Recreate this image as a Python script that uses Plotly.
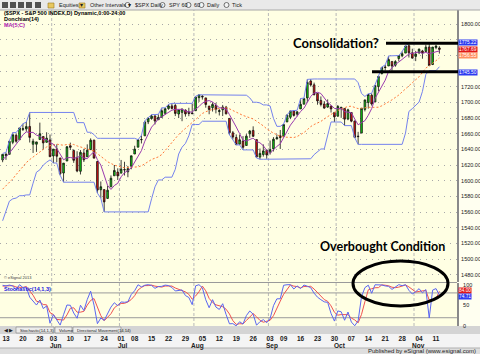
import plotly.graph_objects as go

# ---------------- data ----------------
dates = [
"2013-05-10","2013-05-13","2013-05-14","2013-05-15","2013-05-16","2013-05-17",
"2013-05-20","2013-05-21","2013-05-22","2013-05-23","2013-05-24",
"2013-05-28","2013-05-29","2013-05-30","2013-05-31",
"2013-06-03","2013-06-04","2013-06-05","2013-06-06","2013-06-07",
"2013-06-10","2013-06-11","2013-06-12","2013-06-13","2013-06-14",
"2013-06-17","2013-06-18","2013-06-19","2013-06-20","2013-06-21",
"2013-06-24","2013-06-25","2013-06-26","2013-06-27","2013-06-28",
"2013-07-01","2013-07-02","2013-07-03","2013-07-05",
"2013-07-08","2013-07-09","2013-07-10","2013-07-11","2013-07-12",
"2013-07-15","2013-07-16","2013-07-17","2013-07-18","2013-07-19",
"2013-07-22","2013-07-23","2013-07-24","2013-07-25","2013-07-26",
"2013-07-29","2013-07-30","2013-07-31",
"2013-08-01","2013-08-02",
"2013-08-05","2013-08-06","2013-08-07","2013-08-08","2013-08-09",
"2013-08-12","2013-08-13","2013-08-14","2013-08-15","2013-08-16",
"2013-08-19","2013-08-20","2013-08-21","2013-08-22","2013-08-23",
"2013-08-26","2013-08-27","2013-08-28","2013-08-29","2013-08-30",
"2013-09-03","2013-09-04","2013-09-05","2013-09-06",
"2013-09-09","2013-09-10","2013-09-11","2013-09-12","2013-09-13",
"2013-09-16","2013-09-17","2013-09-18","2013-09-19","2013-09-20",
"2013-09-23","2013-09-24","2013-09-25","2013-09-26","2013-09-27",
"2013-09-30",
"2013-10-01","2013-10-02","2013-10-03","2013-10-04",
"2013-10-07","2013-10-08","2013-10-09","2013-10-10","2013-10-11",
"2013-10-14","2013-10-15","2013-10-16","2013-10-17","2013-10-18",
"2013-10-21","2013-10-22","2013-10-23","2013-10-24","2013-10-25",
"2013-10-28","2013-10-29","2013-10-30","2013-10-31",
"2013-11-01","2013-11-04","2013-11-05","2013-11-06","2013-11-07","2013-11-08",
"2013-11-11","2013-11-12"]

opens = [1626.69,1632.10,1633.75,1649.13,1658.07,1652.45,1665.71,1666.20,1669.39,1646.67,1646.67,1652.63,1656.57,1649.14,1652.13,
1631.71,1640.73,1629.05,1609.94,1625.27,1644.67,1638.64,1629.94,1612.15,1635.52,1630.64,1639.77,1651.83,1624.62,1588.62,1588.77,1577.52,1592.27,1606.44,1611.12,
1609.78,1614.29,1611.48,1618.65,1634.20,1642.89,1652.50,1657.41,1675.26,1679.59,1682.70,1677.91,1681.05,1686.15,1692.09,1695.53,1696.06,1685.21,1687.31,1690.32,1687.92,1686.61,
1689.42,1706.10,1708.01,1705.79,1695.30,1693.35,1696.10,1688.37,1690.65,1693.88,1679.61,1661.22,1655.25,1646.81,1650.66,1645.03,1659.92,1664.29,1652.54,1630.25,1633.50,1638.89,
1635.95,1640.72,1653.28,1657.44,1656.85,1675.11,1681.04,1689.21,1685.04,1691.70,1697.73,1705.74,1727.34,1722.44,1711.44,1702.60,1698.02,1694.05,1695.52,1687.26,
1682.41,1691.90,1692.35,1678.79,1687.15,1676.22,1656.99,1660.88,1691.09,1699.86,1709.17,1700.49,1720.17,1736.72,1745.20,1746.48,1752.27,1747.48,1756.01,1759.42,1762.93,1772.27,1763.24,
1758.70,1763.40,1765.67,1765.00,1770.74,1748.37,1769.96,1769.51]

highs = [1633.70,1636.00,1651.10,1661.49,1660.51,1667.47,1672.84,1674.93,1687.18,1653.64,1649.78,1674.21,1656.57,1661.91,1658.99,
1640.42,1646.53,1629.31,1622.56,1644.40,1648.69,1640.13,1637.71,1639.25,1640.80,1646.50,1654.19,1652.45,1624.62,1599.19,1588.77,1593.79,1606.83,1620.07,1615.94,
1626.61,1624.26,1618.97,1632.07,1644.68,1652.45,1657.92,1676.63,1680.19,1684.51,1683.73,1684.75,1693.12,1692.09,1697.61,1698.78,1698.38,1690.94,1691.85,1690.92,1693.19,1698.43,
1707.85,1709.67,1709.24,1705.79,1695.30,1700.18,1699.42,1691.49,1696.81,1695.52,1679.61,1663.60,1659.18,1658.92,1656.99,1659.55,1664.85,1669.51,1652.54,1641.18,1646.41,1640.08,
1651.35,1655.72,1659.17,1664.83,1672.40,1684.09,1689.13,1689.97,1688.73,1704.95,1705.52,1729.44,1729.86,1725.23,1711.44,1707.63,1701.71,1703.85,1695.52,1687.26,
1696.55,1693.87,1692.35,1691.94,1687.15,1676.79,1662.47,1692.56,1703.44,1711.03,1711.57,1721.76,1733.45,1745.31,1747.79,1759.33,1752.27,1753.94,1759.82,1764.99,1772.09,1775.22,1768.53,
1765.67,1768.78,1767.03,1773.74,1774.54,1770.78,1773.44,1771.78]

lows = [1623.71,1626.74,1633.75,1646.68,1648.60,1652.45,1663.52,1662.67,1648.86,1635.53,1636.88,1652.63,1640.05,1648.61,1630.74,
1622.72,1623.62,1607.09,1598.23,1625.27,1639.26,1622.92,1610.92,1608.07,1623.96,1630.34,1639.77,1628.91,1584.32,1577.70,1560.33,1577.09,1592.27,1606.44,1601.06,
1609.78,1606.77,1604.57,1614.71,1634.20,1642.89,1647.66,1657.41,1672.33,1677.89,1671.84,1677.91,1681.05,1684.08,1690.67,1691.13,1682.57,1680.07,1676.03,1681.86,1682.42,1684.94,
1689.42,1700.68,1703.55,1693.29,1684.91,1688.38,1686.02,1683.35,1682.62,1684.83,1658.59,1652.61,1645.84,1646.08,1639.43,1645.03,1654.81,1656.02,1629.05,1627.47,1630.88,1628.05,
1633.41,1637.41,1653.07,1640.62,1656.85,1675.11,1678.70,1681.96,1682.22,1691.70,1697.73,1700.35,1720.20,1708.89,1697.10,1694.90,1691.88,1693.11,1687.11,1674.99,
1682.07,1680.34,1670.36,1677.33,1674.70,1655.03,1646.47,1660.88,1688.52,1692.13,1695.93,1700.49,1714.12,1735.74,1740.67,1746.48,1740.50,1745.50,1752.45,1757.67,1762.93,1757.24,1755.72,
1752.70,1761.56,1755.76,1764.40,1746.20,1747.63,1767.85,1762.29]

closes = [1633.70,1633.77,1650.34,1658.78,1650.47,1667.47,1666.29,1669.16,1655.35,1650.51,1649.60,1660.06,1648.36,1654.41,1630.74,
1640.42,1631.38,1608.90,1622.56,1643.38,1642.81,1626.13,1612.52,1636.36,1626.73,1639.04,1651.81,1628.93,1588.19,1592.43,1573.09,1588.03,1603.26,1613.20,1606.28,
1614.96,1614.08,1615.41,1631.89,1640.46,1652.32,1652.62,1675.02,1680.19,1682.50,1676.26,1680.91,1689.37,1692.09,1695.53,1692.39,1685.94,1690.25,1691.65,1685.33,1685.96,1685.73,
1706.87,1709.67,1707.14,1697.37,1690.91,1697.48,1691.42,1689.47,1694.16,1685.39,1661.32,1655.83,1646.06,1652.35,1642.80,1656.96,1663.50,1656.78,1630.48,1634.96,1638.17,1632.97,
1639.77,1653.08,1655.08,1655.17,1671.71,1683.99,1689.13,1683.42,1687.99,1697.60,1704.76,1725.52,1722.34,1709.91,1701.84,1697.42,1692.77,1698.67,1691.75,1681.55,
1695.00,1693.87,1678.66,1690.50,1676.12,1655.45,1656.40,1692.56,1703.20,1710.14,1698.06,1721.54,1733.15,1744.50,1744.66,1754.67,1746.38,1752.07,1759.77,1762.11,1771.95,1763.31,1756.54,
1761.64,1767.93,1762.97,1770.49,1747.15,1770.61,1771.89,1767.69]

ma5 = [1627.3,1630.6,1635.4,1640.7,1645.4,1652.2,1658.7,1662.4,1661.7,1661.8,1658.2,1656.9,1652.8,1652.6,1648.6,
1646.8,1641.1,1633.2,1626.8,1629.3,1629.8,1628.8,1629.5,1632.2,1628.9,1628.2,1633.3,1636.6,1626.9,1620.1,1606.9,1594.1,1589.0,1594.0,1596.8,
1605.1,1610.4,1612.8,1616.5,1623.4,1630.8,1638.5,1650.5,1660.1,1668.5,1673.3,1679.0,1681.8,1684.2,1686.8,1690.1,1691.1,1691.2,1691.2,1689.1,1687.8,1687.8,
1691.1,1694.7,1699.1,1701.4,1702.4,1700.5,1696.9,1693.3,1692.7,1691.6,1684.4,1677.2,1668.6,1660.2,1651.7,1650.8,1652.3,1654.5,1650.1,1648.5,1644.8,1638.7,
1635.3,1639.8,1643.8,1647.2,1655.0,1663.8,1671.0,1676.7,1683.2,1688.4,1692.6,1699.9,1707.6,1712.0,1712.9,1711.4,1704.9,1700.1,1696.5,1692.4,
1691.9,1692.2,1688.2,1687.9,1686.8,1678.9,1671.4,1674.2,1676.7,1683.6,1692.1,1705.1,1713.2,1721.5,1728.4,1739.7,1744.7,1748.5,1751.5,1755.0,1758.5,1761.8,1762.7,
1763.1,1764.3,1762.5,1763.9,1762.0,1763.8,1764.6,1765.6]

ma20 = [1589.3,1593.4,1597.1,1602.5,1607.9,1613.5,1618.7,1623.2,1627.1,1630.3,1633.7,1637.0,1639.6,1643.2,1644.8,
1646.1,1646.8,1646.0,1645.4,1646.3,1646.7,1646.4,1644.5,1643.3,1642.2,1640.7,1640.0,1638.0,1634.6,1631.7,1627.9,1624.3,1622.1,1620.0,1618.8,
1617.5,1616.6,1617.0,1617.4,1617.3,1617.8,1619.1,1622.2,1624.4,1627.2,1629.0,1630.5,1633.5,1638.7,1643.9,1649.8,1654.7,1659.1,1663.0,1667.0,1670.5,1674.1,
1678.7,1682.6,1685.9,1688.1,1690.1,1691.2,1691.7,1692.1,1693.0,1693.2,1691.8,1690.0,1687.5,1685.5,1683.4,1681.7,1680.3,1678.9,1676.1,1673.5,1670.1,1666.3,
1662.9,1660.7,1658.9,1656.8,1655.8,1655.5,1655.3,1655.2,1656.5,1658.6,1661.5,1665.2,1669.2,1671.8,1673.7,1675.8,1678.9,1682.1,1684.7,1687.2,
1689.9,1692.0,1693.2,1694.9,1695.1,1693.7,1692.1,1692.5,1693.3,1693.9,1693.6,1693.4,1693.9,1695.7,1697.8,1700.7,1703.3,1706.0,1709.4,1713.4,1717.3,1720.8,1724.7,
1728.2,1732.8,1738.2,1743.9,1746.6,1750.0,1753.1,1756.6]

don_upper = [1635.0,1636.0,1651.1,1661.5,1661.5,1667.5,1672.8,1674.9,
1687.2,1687.2,1687.2,1687.2,1687.2,1687.2,1687.2,1687.2,1687.2,1687.2,1687.2,1687.2,1687.2,1687.2,
1674.2,1674.2,1674.2,1661.9,1661.9,1659.0,
1654.2,1654.2,1654.2,1654.2,1654.2,1654.2,1654.2,1654.2,1654.2,1654.2,1654.2,1654.2,
1652.5,1657.9,1676.6,1680.2,1684.5,1684.5,1684.8,1693.1,1693.1,1697.6,
1698.8,1698.8,1698.8,1698.8,1698.8,1698.8,1698.8,1707.9,
1709.7,1709.7,1709.7,1709.7,1709.7,1709.7,1709.7,1709.7,1709.7,1709.7,1709.7,1709.7,1709.7,1709.7,
1709.2,1705.8,1700.2,1700.2,1699.4,1696.8,1696.8,1695.5,1679.6,1669.5,1669.5,1672.4,1684.1,1689.1,1690.0,1690.0,1705.0,1705.5,1729.4,
1729.9,1729.9,1729.9,1729.9,1729.9,1729.9,1729.9,1729.9,1729.9,1729.9,1729.9,1729.9,1729.9,1729.9,
1725.2,1711.4,1707.6,1711.0,1711.6,1721.8,1733.5,1745.3,1747.8,1759.3,1759.3,1759.3,1759.8,1765.0,1772.1,
1775.2,1775.2,1775.2,1775.2,1775.2,1775.2,1775.2,1775.2,1775.2,1775.2]

don_lower = [1549.0,1563.0,1574.0,1577.0,1578.0,1581.0,1581.0,1582.0,1582.0,1597.0,1611.0,1614.0,1620.0,1623.7,1626.7,1622.7,1622.7,1607.1,
1598.2,1598.2,1598.2,1598.2,1598.2,1598.2,1598.2,1598.2,1598.2,1598.2,
1584.3,1577.7,
1560.3,1560.3,1560.3,1560.3,1560.3,1560.3,1560.3,1560.3,1560.3,1560.3,1560.3,1560.3,1560.3,1560.3,
1577.1,1592.3,1601.1,1601.1,1604.6,1604.6,1604.6,1614.7,1634.2,1642.9,1647.7,1657.4,1671.8,1671.8,1671.8,
1676.0,1676.0,1676.0,1676.0,1676.0,1676.0,1676.0,1676.0,
1658.6,1652.6,1645.8,1645.8,1639.4,1639.4,1639.4,1639.4,1629.1,
1627.5,1627.5,1627.5,1627.5,1627.5,1627.5,1627.5,1627.5,1627.5,1627.5,1627.5,1627.5,1627.5,1627.5,
1628.1,1628.1,1633.4,1637.4,1640.6,1640.6,1656.9,1675.1,1675.0,1675.0,1675.0,1670.4,1670.4,1670.4,1655.0,
1646.5,1646.5,1646.5,1646.5,1646.5,1646.5,1646.5,1646.5,1646.5,1646.5,1646.5,1646.5,1646.5,1646.5,
1660.9,1688.5,1692.1,1695.9,1700.5,1714.1,1735.7,1740.5,1740.5,1740.5,1745.5]

stoch_k = [98.5,96.9,99.0,96.8,86.8,100.0,92.9,93.8,69.7,59.3,50.7,62.9,42.2,48.4,6.7,
27.5,13.5,2.2,27.4,50.8,50.1,31.4,18.8,50.2,37.5,64.1,84.2,50.5,5.6,19.3,13.6,29.5,45.8,56.3,49.0,
58.2,57.3,58.7,76.2,85.4,99.8,94.6,98.6,100.0,98.1,91.1,95.4,95.9,98.9,97.8,93.2,84.7,86.8,87.2,73.6,69.0,51.6,
97.1,99.9,92.4,63.4,44.2,63.7,45.8,40.0,53.9,27.9,5.3,5.7,0.4,10.3,4.8,25.2,36.3,28.6,1.9,10.4,15.4,7.9,
18.0,49.1,65.7,65.9,98.5,99.8,100.0,89.5,96.8,90.5,99.1,96.2,92.6,79.3,69.7,63.6,58.4,57.2,30.4,11.9,
36.4,34.4,13.9,33.8,9.6,0.6,12.6,71.0,92.8,98.7,79.2,99.7,99.6,99.2,96.9,95.9,88.5,93.6,100.0,97.6,99.9,86.3,77.5,
82.9,90.3,80.0,88.1,19.2,86.8,90.5,74.7]

stoch_d = [96.5,97.1,98.1,97.6,94.2,94.5,93.2,95.6,85.5,74.3,59.9,57.6,51.9,51.2,32.4,
27.5,15.9,14.4,14.4,26.8,42.8,44.1,33.4,33.5,35.5,50.6,61.9,66.3,46.8,25.1,12.8,20.8,29.6,43.9,50.4,
54.5,54.8,58.1,64.1,73.4,87.1,93.3,97.7,97.7,98.9,96.4,94.9,94.1,96.7,97.5,96.6,91.9,88.2,86.2,82.5,76.6,64.7,
72.6,82.9,96.5,85.2,66.7,57.1,51.2,49.8,46.6,40.6,29.0,13.0,3.8,5.5,5.2,13.4,22.1,30.0,22.3,13.6,9.2,11.2,
13.8,25.0,44.3,60.2,76.7,88.1,99.4,96.4,95.4,92.3,95.5,95.3,96.0,89.4,80.5,70.9,63.9,59.7,48.7,33.2,
26.2,27.6,28.2,27.4,19.1,14.7,7.6,28.1,58.8,87.5,90.2,92.5,92.8,99.5,98.6,97.3,93.8,92.7,94.0,97.1,99.2,94.6,87.9,
82.2,83.6,84.4,86.1,62.4,64.7,65.5,84.0]

tick_dates = ["2013-05-13","2013-05-20","2013-05-28","2013-06-03","2013-06-10","2013-06-17","2013-06-24",
              "2013-07-01","2013-07-08","2013-07-15","2013-07-22","2013-07-29","2013-08-05","2013-08-12",
              "2013-08-19","2013-08-26","2013-09-03","2013-09-09","2013-09-16","2013-09-23","2013-09-30",
              "2013-10-07","2013-10-14","2013-10-21","2013-10-28","2013-11-04","2013-11-11"]
tick_labels = ["13","20","28","03","10","17","24","01","08","15","22","29","05","12","19","26",
               "03","09","16","23","30","07","14","21","28","04","11"]
month_dates = ["2013-06-03","2013-07-01","2013-08-01","2013-09-03","2013-10-01","2013-11-01"]
month_labels = ["Jun","Jul","Aug","Sep","Oct","Nov"]
price_ticks = [1480,1500,1520,1540,1560,1580,1600,1620,1640,1660,1680,1700,1720,1740,1760,1780,1800]
hidden_price_labels = [1740, 1760, 1780]   # covered by the value boxes in the reference

# ---------------- geometry helpers (pixels -> paper) ----------------
W, H = 480, 354
ML, MR, MT, MB = 0, 23, 10, 28
PW, PH = W - ML - MR, H - MT - MB
def xp(px): return (px - ML) / PW
def yp(py): return (H - MB - py) / PH

BG = "#FFFFE3"
BLUE_BAND = "#7482EE"
ORANGE = "#FF7A3A"
PURPLE = "#9A3AAE"

fig = go.Figure()
fig.add_trace(go.Scatter(x=dates, y=don_upper, mode="lines", line=dict(color=BLUE_BAND, width=1), xaxis="x", yaxis="y", hoverinfo="skip"))
fig.add_trace(go.Scatter(x=dates, y=don_lower, mode="lines", line=dict(color=BLUE_BAND, width=1), xaxis="x", yaxis="y", hoverinfo="skip"))
fig.add_trace(go.Scatter(x=dates, y=ma20, mode="lines", line=dict(color=ORANGE, width=1, dash="2px,2px"), xaxis="x", yaxis="y", hoverinfo="skip"))
fig.add_trace(go.Scatter(x=dates, y=ma5, mode="lines", line=dict(color=PURPLE, width=1), xaxis="x", yaxis="y", hoverinfo="skip"))
fig.add_trace(go.Candlestick(x=dates, open=opens, high=highs, low=lows, close=closes,
                             increasing=dict(line=dict(color="#101010", width=0.8), fillcolor="#10D810"),
                             decreasing=dict(line=dict(color="#101010", width=0.8), fillcolor="#E81010"),
                             whiskerwidth=0, xaxis="x", yaxis="y", hoverinfo="skip"))
fig.add_trace(go.Scatter(x=dates, y=stoch_d, mode="lines", line=dict(color="#F05050", width=1), xaxis="x2", yaxis="y2", hoverinfo="skip"))
fig.add_trace(go.Scatter(x=dates, y=stoch_k, mode="lines", line=dict(color="#5A66F2", width=1), xaxis="x2", yaxis="y2", hoverinfo="skip"))

shapes = []
# toolbar / bottom chrome
shapes.append(dict(type="rect", xref="paper", yref="paper", x0=xp(0), x1=xp(480), y0=yp(10), y1=yp(0),
                   fillcolor="#E9E9E9", line=dict(width=0), layer="below"))
shapes.append(dict(type="line", xref="paper", yref="paper", x0=xp(0), x1=xp(480), y0=yp(10), y1=yp(10),
                   line=dict(color="#A8A8A8", width=1)))
shapes.append(dict(type="rect", xref="paper", yref="paper", x0=xp(0), x1=xp(480), y0=yp(334), y1=yp(326),
                   fillcolor="#D4D4D4", line=dict(width=0), layer="below"))
shapes.append(dict(type="rect", xref="paper", yref="paper", x0=xp(0), x1=xp(480), y0=yp(348), y1=yp(334),
                   fillcolor="#F4F4F4", line=dict(width=0), layer="below"))
shapes.append(dict(type="rect", xref="paper", yref="paper", x0=xp(0), x1=xp(480), y0=yp(354), y1=yp(348),
                   fillcolor="#DEDEDE", line=dict(width=0), layer="below"))
shapes.append(dict(type="line", xref="paper", yref="paper", x0=xp(0), x1=xp(480), y0=yp(348), y1=yp(348),
                   line=dict(color="#B0B0B0", width=1)))
# panel separator
shapes.append(dict(type="line", xref="paper", yref="paper", x0=0, x1=1, y0=yp(282.5), y1=yp(282.5),
                   line=dict(color="#9A9A9A", width=1)))
# month separators
for d in month_dates:
    i = dates.index(d) - 0.5
    shapes.append(dict(type="line", xref="x", yref="paper", x0=i, x1=i, y0=0, y1=1,
                       line=dict(color="#B8B8B8", width=1, dash="3px,2px"), layer="below"))
# stochastic 20/80 lines
for lv in (20, 80):
    shapes.append(dict(type="line", xref="paper", yref="y2", x0=0, x1=1, y0=lv, y1=lv,
                       line=dict(color="#9A9A9A", width=1), layer="below"))
# consolidation lines
shapes.append(dict(type="line", xref="paper", yref="y", x0=xp(386), x1=xp(458), y0=1775.4, y1=1775.4,
                   line=dict(color="black", width=3)))
shapes.append(dict(type="line", xref="paper", yref="y", x0=xp(372), x1=xp(458), y0=1739.2, y1=1739.2,
                   line=dict(color="black", width=3)))
# overbought ellipse
shapes.append(dict(type="circle", xref="paper", yref="paper", x0=xp(353), x1=xp(448), y0=yp(306), y1=yp(261),
                   line=dict(color="black", width=3)))

ann = []
def text(px, py, s, size=6, color="black", anchor="left", bold=False, family="Arial", bg=None):
    d = dict(xref="paper", yref="paper", x=xp(px), y=yp(py), text=s, showarrow=False,
             xanchor=anchor, yanchor="middle", font=dict(size=size, color=color, family=family,
             weight="bold" if bold else "normal"))
    if bg:
        d.update(bgcolor=bg, borderpad=0)
    ann.append(d)

# toolbar: icons drawn as small shapes, labels as text
for px in (2, 10, 18, 26, 35):
    shapes.append(dict(type="rect", xref="paper", yref="paper", x0=xp(px), x1=xp(px + 6), y0=yp(8), y1=yp(2),
                       fillcolor="#505050", line=dict(width=0)))
for px in (48, 79):
    shapes.append(dict(type="rect", xref="paper", yref="paper", x0=xp(px), x1=xp(px + 6), y0=yp(8), y1=yp(3),
                       fillcolor="#E8C860", line=dict(color="#9A7A20", width=0.6)))
for px in (125, 160, 186, 199, 224):
    shapes.append(dict(type="circle", xref="paper", yref="paper", x0=xp(px), x1=xp(px + 5), y0=yp(7.5), y1=yp(2.5),
                       fillcolor="#F4F4F4", line=dict(color="#505050", width=0.8)))
for px, s in [(57, "Equities ▾"), (88, "Other Intervals ▾"), (133, "$SPX Daily"), (167, "SPY 60"),
              (192, "60"), (205, "Daily"), (230, "Tick")]:
    text(px, 5, s, size=5.5, color="#202020")
# chart header
text(2, 13.5, "($SPX - S&P 500 INDEX,D) Dynamic,0:00-24:00", size=5.5, bold=True)
text(2, 19, "Donchian(14)", size=5.5, bold=True)
text(2, 24.5, "MA(5,C)", size=5.5, color="#B020B0", bold=True)
text(2, 277, "© eSignal 2013", size=4, color="#404040")
text(2, 288.5, "Stochastic(14,1,3)", size=5.5, color="#2020E0", bold=True)
# annotations on chart
text(291, 43, "Consolidation?", size=13, bold=True, family="Lato")
text(318, 246.5, "Overbought Condition", size=12.5, bold=True, family="Lato")
# value boxes on right axis
for py, s, bg in [(42.5, "1775.22", "#2E3CF0"), (49.0, "1767.69", "#E01818"), (55.5, "1756.55", "#FF9060"),
                  (72.0, "1745.50", "#2E3CF0"), (290.0, "84.00", "#E01818"), (296.5, "74.71", "#2E3CF0")]:
    text(458, py, s, size=4.8, color="white", bg=bg)
# tab bar
text(2, 330, "◀ ▶", size=4.5, color="#202020")
for px0, px1, s in [(16, 54, "Stochastic(14,1,3)"), (55, 72, "Volume"), (73, 121, "Directional Movement(14,14)")]:
    shapes.append(dict(type="rect", xref="paper", yref="paper", x0=xp(px0), x1=xp(px1), y0=yp(333), y1=yp(327),
                       fillcolor="#ECECEC", line=dict(color="#808080", width=0.6)))
    text(px0 + 1.5, 330, s, size=4.2, color="#202020")
# month labels
for d, s in zip(month_dates, month_labels):
    ann.append(dict(xref="x2", yref="paper", x=dates.index(d) + 0.7, y=yp(345.5), text=s, showarrow=False,
                    xanchor="center", yanchor="middle", font=dict(size=6.5, color="#202020", family="Arial", weight="bold")))
text(478, 351.2, "Published by eSignal (www.esignal.com)", size=6, color="#202020", anchor="right")

fig.update_layout(
    width=W, height=H, margin=dict(l=ML, r=MR, t=MT, b=MB),
    paper_bgcolor="#FFFFF0", plot_bgcolor=BG, showlegend=False,
    shapes=shapes, annotations=ann,
    xaxis=dict(type="category", domain=[0, 1], anchor="y", range=[-0.77, 134.2], showticklabels=False,
               showgrid=False, zeroline=False, showline=False, ticks=""),
    xaxis2=dict(type="category", domain=[0, 1], anchor="y2", matches="x", range=[-0.77, 134.2],
                tickmode="array", tickvals=tick_dates, ticktext=tick_labels, ticks="",
                tickfont=dict(size=6.5, color="#202020", family="Arial", weight="bold"),
                ticklabelstandoff=7, showgrid=False, zeroline=False, showline=False),
    yaxis=dict(domain=[yp(282), 1], range=[1470.9, 1817.9], side="right", anchor="x",
               tickmode="array", tickvals=price_ticks,
               ticktext=["" if v in hidden_price_labels else "%.2f" % v for v in price_ticks],
               tickfont=dict(size=5.5, color="#202020", family="Arial"), ticks="", ticklabelstandoff=1,
               showgrid=True, gridcolor="#A8A8A8", griddash="1px,5px", gridwidth=1,
               showline=True, linecolor="#8A8A8A", linewidth=2, zeroline=False),
    yaxis2=dict(domain=[0, yp(283)], range=[0, 104], side="right", anchor="x2",
                tickmode="array", tickvals=[0, 50, 100], ticktext=["0", "50", "100"],
                tickfont=dict(size=5.5, color="#202020", family="Arial"), ticks="", ticklabelstandoff=3,
                showgrid=False, showline=True, linecolor="#8A8A8A", linewidth=2, zeroline=False),
)
fig.update_xaxes(rangeslider_visible=False)

fig.write_html("out.html")
